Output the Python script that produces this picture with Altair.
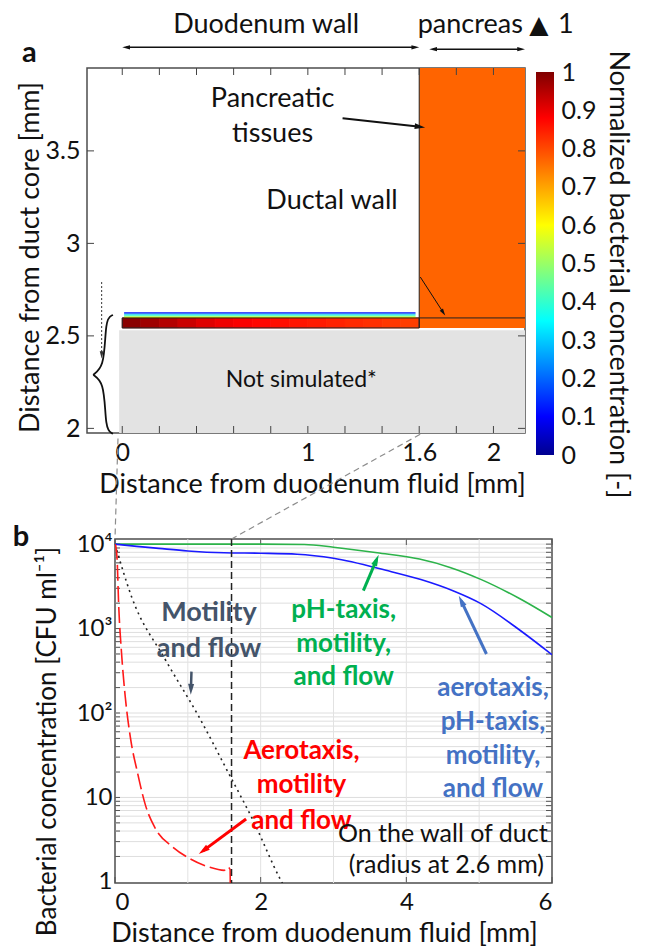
import math
import altair as alt
import pandas as pd

FONT = "Lato"
INK = "#111111"

# ===================== Panel (a) values =====================
a_x_domain = [-0.19, 2.17]
a_y_domain = [1.975, 3.948]
a_x_ticks = [0, 1, 1.6, 2]
a_y_ticks = [2, 2.5, 3, 3.5]
a_x_minor = [0, 0.2, 0.4, 0.6, 0.8, 1.0, 1.2, 1.4, 1.6, 1.8, 2.0]

band_start = [0.0, 0.1, 0.2, 0.3, 0.4, 0.5, 0.6, 0.7, 0.8, 0.9, 1.0, 1.1, 1.2, 1.3, 1.4, 1.5]
band_end = [0.1, 0.2, 0.3, 0.4, 0.5, 0.6, 0.7, 0.8, 0.9, 1.0, 1.1, 1.2, 1.3, 1.4, 1.5, 1.6]
band_conc = [0.99, 0.97, 0.95, 0.93, 0.91, 0.895, 0.885, 0.875, 0.865, 0.857, 0.85,
             0.843, 0.835, 0.828, 0.82, 0.813]
band_bottom, band_top = 2.543, 2.597

film_bottom = [2.597, 2.603, 2.609, 2.615, 2.621]
film_top = [2.603, 2.609, 2.615, 2.621, 2.628]
film_conc = [0.62, 0.5, 0.4, 0.28, 0.12]
film_left, film_right = 0.01, 1.58

pancreas_left, pancreas_right = 1.6, 2.17
pancreas_bottom, pancreas_top = 2.543, 3.948
pancreas_conc = 0.77

unsim_left, unsim_right = -0.017, 2.17
unsim_bottom, unsim_top = 1.975, 2.531

# colour bar (jet-like)
cb_stops = [0, 0.1, 0.35, 0.6, 0.88, 1.0]
cb_colors = ["#00008f", "#0000ff", "#00ffff", "#ffff00", "#ff0000", "#7f0000"]
cb_ticks = [0, 0.1, 0.2, 0.3, 0.4, 0.5, 0.6, 0.7, 0.8, 0.9, 1]

a_labels = ["Pancreatic", "tissues", "Ductal wall"]
a_labels_x = [0.81, 0.81, 1.13]
a_labels_y = [3.78, 3.59, 3.23]
unsim_label = ["Not simulated*"]
unsim_label_x = [0.965]
unsim_label_y = [2.26]

a_top_labels = ["Duodenum wall", "pancreas", "1"]
a_top_x = [0.775, 1.875, 2.39]
a_top_y = [4.18, 4.18, 4.178]

brace_x = [-0.05, -0.093, -0.093, -0.185, -0.093, -0.093, -0.05]
brace_y = [2.613, 2.595, 2.31, 2.29, 2.27, 1.99, 1.971]

# arrows: (x1, y1, x2, y2)
a_arrow_pancreatic = [(1.187, 3.676, 1.632, 3.627)]
a_arrow_ductal = [(1.606, 2.818, 1.74, 2.61)]
a_arrow_dotted = [(-0.111, 2.791, -0.111, 2.378)]
a_arrow_spans = [(0.0, 4.06, 1.6, 4.06), (1.654, 4.05, 2.17, 4.05)]

# ===================== Panel (b) values =====================
b_x_domain = [0, 6]
b_y_domain = [0.97, 11500]
b_x_ticks = [0, 2, 4, 6]
b_x_grid = [1, 2, 3, 4, 5]
b_y_ticks = [1, 10, 100, 1000, 10000]
b_y_tick_labels = ["1", "10", "10²", "10³", "10⁴"]
b_y_grid = [2, 3, 4, 5, 6, 7, 8, 9, 10, 20, 30, 40, 50, 60, 70, 80, 90,
            100, 200, 300, 400, 500, 600, 700, 800, 900,
            1000, 2000, 3000, 4000, 5000, 6000, 7000, 8000, 9000, 10000]

green_x = [0, 1.0, 2.0, 2.6, 3.0, 3.6, 4.18, 4.6, 5.03, 5.56, 6.0]
green_y = [10000, 10000, 10000, 9900, 9200, 7900, 6650, 5300, 3800, 2250, 1350]

blue_x = [0, 0.3, 0.6, 1.0, 1.5, 2.0, 2.5, 3.0, 3.72, 4.2, 4.64, 5.03, 5.56, 6.0]
blue_y = [10000, 9400, 8900, 8300, 7900, 7800, 7600, 6800, 4900, 3800, 2800, 1960, 955, 490]

red_x = [0, 0.01, 0.03, 0.05, 0.09, 0.14, 0.21, 0.31, 0.42, 0.56, 0.79, 1.02, 1.29, 1.50, 1.55, 1.58, 1.585]
red_y = [10000, 9500, 6300, 1950, 510, 158, 52, 19.5, 8, 4.2, 2.6, 1.9, 1.5, 1.37, 1.5, 1.4, 0.5]

dot_x = [0.0, 0.23, 0.69, 1.15, 1.57, 1.885, 2.28, 2.35]
dot_y = [10000, 2350, 430, 91, 18.6, 5.6, 1.03, 0.8]

b_vline = [1.6]

conn_x1 = [0.041, 4.19]
conn_y1 = [178000, 200000]
conn_x2 = [0.0, 1.6]
conn_y2 = [11500, 11500]

motility_text = ["Motility", "and flow"]
motility_x = [1.29, 1.29]
motility_y = [1514, 575]
green_text = ["pH-taxis,", "motility,", "and flow"]
green_tx = [3.14, 3.14, 3.14]
green_ty = [1640, 660, 270]
blue_text = ["aerotaxis,", "pH-taxis,", "motility,", "and flow"]
blue_tx = [5.19, 5.19, 5.19, 5.19]
blue_ty = [197, 79, 31, 12.5]
red_text = ["Aerotaxis,", "motility", "and flow"]
red_tx = [2.56, 2.56, 2.56]
red_ty = [35.5, 14, 5.3]
wall_text = ["On the wall of duct", "(radius at 2.6 mm)"]
wall_tx = [5.94, 5.89]
wall_ty = [3.7, 1.57]

b_arrow_motility = [(1.05, 309, 1.04, 164)]
b_arrow_green = [(3.41, 2820, 3.62, 7500)]
b_arrow_blue = [(5.10, 500, 4.72, 2450)]
b_arrow_red = [(1.80, 5.56, 1.15, 2.14)]

# ===================== sizes =====================
A_W, A_H = 438, 365
B_W, B_H = 437, 344
CB_W, CB_H, CB_TOP = 18, 387, 4
HEAD = "M0,-1L-0.55,1L0.55,1Z"


def a_fwd(x, y):
    return ((x - a_x_domain[0]) / (a_x_domain[1] - a_x_domain[0]) * A_W,
            (a_y_domain[1] - y) / (a_y_domain[1] - a_y_domain[0]) * A_H)


def a_inv(px, py):
    return (a_x_domain[0] + px / A_W * (a_x_domain[1] - a_x_domain[0]),
            a_y_domain[1] - py / A_H * (a_y_domain[1] - a_y_domain[0]))


LB0, LB1 = math.log10(b_y_domain[0]), math.log10(b_y_domain[1])


def b_fwd(x, y):
    return ((x - b_x_domain[0]) / (b_x_domain[1] - b_x_domain[0]) * B_W,
            (LB1 - math.log10(y)) / (LB1 - LB0) * B_H)


def b_inv(px, py):
    return (b_x_domain[0] + px / B_W * (b_x_domain[1] - b_x_domain[0]),
            10 ** (LB1 - py / B_H * (LB1 - LB0)))


def arrow_layers(arrows, fwd, inv, X, Y, color, width, head_size, dash=None, both=False):
    rows, heads = [], []
    r = math.sqrt(head_size) / 2
    for (x1, y1, x2, y2) in arrows:
        p1, p2 = fwd(x1, y1), fwd(x2, y2)
        dx, dy = p2[0] - p1[0], p2[1] - p1[1]
        L = math.hypot(dx, dy)
        ux, uy = dx / L, dy / L
        ang = math.degrees(math.atan2(ux, -uy)) % 360
        c2 = inv(p2[0] - ux * r, p2[1] - uy * r)
        start = (x1, y1)
        if both:
            c1 = inv(p1[0] + ux * r, p1[1] + uy * r)
            heads.append({"x": c1[0], "y": c1[1], "ang": (ang + 180) % 360})
            start = c1
        heads.append({"x": c2[0], "y": c2[1], "ang": ang})
        rows.append({"x": start[0], "y": start[1], "x2": c2[0], "y2": c2[1]})
    rule_kw = dict(color=color, strokeWidth=width)
    if dash:
        rule_kw["strokeDash"] = dash
    shaft = alt.Chart(pd.DataFrame(rows)).mark_rule(**rule_kw).encode(
        x=X(), y=Y(), x2="x2:Q", y2="y2:Q")
    tip = alt.Chart(pd.DataFrame(heads)).mark_point(
        shape=HEAD, filled=True, size=head_size, color=color, opacity=1, strokeWidth=0
    ).encode(x=X(), y=Y(), angle=alt.Angle("ang:Q", scale=None))
    return [shaft, tip]


# ===================== Panel (a) =====================
a_xscale = alt.Scale(domain=a_x_domain, nice=False, zero=False)
a_yscale = alt.Scale(domain=a_y_domain, nice=False, zero=False)
a_xaxis = alt.Axis(values=a_x_ticks, format="~g", title="Distance from duodenum fluid [mm]",
                   grid=False, ticks=False, domain=False, labelFontSize=25, titleFontSize=27,
                   labelPadding=7, titlePadding=6, labelFlush=False, titleX=225)
a_yaxis = alt.Axis(values=a_y_ticks, format="~g", title="Distance from duct core [mm]",
                   grid=False, ticks=False, domain=False, labelFontSize=25, titleFontSize=27,
                   labelPadding=7, titlePadding=1, titleY=189)


def AX():
    return alt.X("x:Q", scale=a_xscale, axis=a_xaxis)


def AY():
    return alt.Y("y:Q", scale=a_yscale, axis=a_yaxis)


cscale = alt.Scale(domain=cb_stops, range=cb_colors, interpolate="rgb")


def CC():
    return alt.Color("v:Q", scale=cscale, legend=None)


def CS():
    return alt.Stroke("v:Q", scale=cscale, legend=None)


unsim_df = pd.DataFrame({"x": [unsim_left], "x2": [unsim_right], "y": [unsim_bottom], "y2": [unsim_top]})
a_unsim = alt.Chart(unsim_df).mark_rect(color="#e3e3e3").encode(x=AX(), x2="x2:Q", y=AY(), y2="y2:Q")

panc_df = pd.DataFrame({"x": [pancreas_left], "x2": [pancreas_right], "y": [pancreas_bottom],
                        "y2": [pancreas_top], "v": [pancreas_conc]})
a_panc = alt.Chart(panc_df).mark_rect().encode(x=AX(), x2="x2:Q", y=AY(), y2="y2:Q", color=CC())

band_df = pd.DataFrame({"x": band_start, "x2": band_end, "y": [band_bottom] * len(band_start),
                        "y2": [band_top] * len(band_start), "v": band_conc})
a_band = alt.Chart(band_df).mark_rect(strokeWidth=0.8).encode(
    x=AX(), x2="x2:Q", y=AY(), y2="y2:Q", color=CC(), stroke=CS())

film_df = pd.DataFrame({"x": [film_left] * len(film_conc), "x2": [film_right] * len(film_conc),
                        "y": film_bottom, "y2": film_top, "v": film_conc})
a_film = alt.Chart(film_df).mark_rect().encode(x=AX(), x2="x2:Q", y=AY(), y2="y2:Q", color=CC())

band_box = alt.Chart(pd.DataFrame({"x": [0.0], "x2": [1.6], "y": [band_bottom], "y2": [band_top]})).mark_rect(
    fill="transparent", stroke="#222", strokeWidth=1).encode(x=AX(), x2="x2:Q", y=AY(), y2="y2:Q")
hline = alt.Chart(pd.DataFrame({"x": [1.6], "x2": [a_x_domain[1]], "y": [band_top]})).mark_rule(
    color="#222", strokeWidth=1).encode(x=AX(), x2="x2:Q", y=AY())
vline = alt.Chart(pd.DataFrame({"x": [1.6], "y": [band_bottom], "y2": [a_y_domain[1]]})).mark_rule(
    color="#222", strokeWidth=1).encode(x=AX(), y=AY(), y2="y2:Q")

tick_top = alt.Chart(pd.DataFrame({"x": a_x_minor})).mark_rule(color="#444", strokeWidth=1).encode(
    x=AX(), y=alt.value(0), y2=alt.value(7))
tick_bot = alt.Chart(pd.DataFrame({"x": a_x_minor})).mark_rule(color="#444", strokeWidth=1).encode(
    x=AX(), y=alt.value(A_H - 7), y2=alt.value(A_H))
tick_left = alt.Chart(pd.DataFrame({"y": a_y_ticks})).mark_rule(color="#444", strokeWidth=1).encode(
    y=AY(), x=alt.value(0), x2=alt.value(7))
tick_right = alt.Chart(pd.DataFrame({"y": a_y_ticks})).mark_rule(color="#444", strokeWidth=1).encode(
    y=AY(), x=alt.value(A_W - 7), x2=alt.value(A_W))

a_txt = alt.Chart(pd.DataFrame({"x": a_labels_x, "y": a_labels_y, "t": a_labels})).mark_text(
    font=FONT, fontSize=27, color=INK).encode(x=AX(), y=AY(), text="t:N")
a_unsim_txt = alt.Chart(pd.DataFrame({"x": unsim_label_x, "y": unsim_label_y, "t": unsim_label})).mark_text(
    font=FONT, fontSize=23, color=INK).encode(x=AX(), y=AY(), text="t:N")
a_top = alt.Chart(pd.DataFrame({"x": a_top_x, "y": a_top_y, "t": a_top_labels})).mark_text(
    font=FONT, fontSize=27, color=INK).encode(x=AX(), y=AY(), text="t:N")
a_tri = alt.Chart(pd.DataFrame({"x": [2.245], "y": [4.178], "t": ["▲"]})).mark_text(
    font="DejaVu Sans", fontSize=25, color=INK).encode(x=AX(), y=AY(), text="t:N")
a_letter = alt.Chart(pd.DataFrame({"x": [-0.5], "y": [4.03], "t": ["a"]})).mark_text(
    font=FONT, fontSize=29, fontWeight="bold", color=INK).encode(x=AX(), y=AY(), text="t:N")

brace = alt.Chart(pd.DataFrame({"x": brace_x, "y": brace_y, "i": list(range(len(brace_x)))})).mark_line(
    color="#111", strokeWidth=1.8, interpolate="basis").encode(x=AX(), y=AY(), order="i:Q")

a_layers = [a_unsim, a_panc, a_band, a_film, band_box, hline, vline,
            tick_top, tick_bot, tick_left, tick_right, a_txt, a_unsim_txt, a_top, a_tri, a_letter, brace]
a_layers += arrow_layers(a_arrow_pancreatic, a_fwd, a_inv, AX, AY, "#111", 2, 110)
a_layers += arrow_layers(a_arrow_ductal, a_fwd, a_inv, AX, AY, "#111", 1, 50)
a_layers += arrow_layers(a_arrow_dotted, a_fwd, a_inv, AX, AY, "#333", 1, 50, dash=[2, 2])
a_layers += arrow_layers(a_arrow_spans, a_fwd, a_inv, AX, AY, "#111", 1.5, 60, both=True)

panel_a = alt.layer(*a_layers).properties(width=A_W, height=A_H)

# ===================== colour bar =====================
cb_grad = alt.LinearGradient(
    gradient="linear", x1=0, y1=1, x2=0, y2=0,
    stops=[alt.GradientStop(offset=o, color=c) for o, c in zip(cb_stops, cb_colors)])
cb_scale = alt.Scale(domain=[0, CB_H / (CB_H - CB_TOP)], nice=False, zero=False)
cb_axis = alt.Axis(orient="right", values=cb_ticks, format="~g", grid=False, ticks=False, domain=False,
                   labelFontSize=25, labelPadding=7, labelOverlap=False,
                   title="Normalized bacterial concentration [-]", titleFontSize=27, titlePadding=8,
                   titleY=206, titleLimit=700)
cbar = alt.Chart(pd.DataFrame({"y": [0.0], "y2": [1.0]})).mark_rect(color=cb_grad).encode(
    x=alt.value(0), x2=alt.value(CB_W),
    y=alt.Y("y:Q", scale=cb_scale, axis=cb_axis), y2="y2:Q"
).properties(width=CB_W, height=CB_H, view=alt.ViewBackground(stroke="transparent"))

# ===================== Panel (b) =====================
b_xscale = alt.Scale(domain=b_x_domain, nice=False, zero=False)
b_yscale = alt.Scale(type="log", domain=b_y_domain, nice=False)
label_expr = " : ".join(
    [f"datum.value == {v} ? '{t}'" for v, t in zip(b_y_ticks[:-1], b_y_tick_labels[:-1])]
) + f" : '{b_y_tick_labels[-1]}'"
b_xaxis = alt.Axis(values=b_x_ticks, format="~g", title="Distance from duodenum fluid [mm]",
                   grid=False, ticks=False, domain=False, labelFontSize=24, titleFontSize=27,
                   labelPadding=7, titlePadding=6, titleX=209)
b_yaxis = alt.Axis(values=b_y_ticks, labelExpr=label_expr, title="Bacterial concentration [CFU ml⁻¹]",
                   grid=False, ticks=False, domain=False, labelFontSize=24, titleFontSize=26,
                   labelPadding=3, titlePadding=16, titleY=202)


def BX():
    return alt.X("x:Q", scale=b_xscale, axis=b_xaxis)


def BY():
    return alt.Y("y:Q", scale=b_yscale, axis=b_yaxis)


ygrid = alt.Chart(pd.DataFrame({"y": b_y_grid})).mark_rule(color="#dedede", strokeWidth=1).encode(y=BY())
xgrid = alt.Chart(pd.DataFrame({"x": b_x_grid})).mark_rule(color="#e2e2e2", strokeWidth=1).encode(x=BX())
ytick_l = alt.Chart(pd.DataFrame({"y": b_y_grid})).mark_rule(color="#555", strokeWidth=1).encode(
    y=BY(), x=alt.value(0), x2=alt.value(5))
ytick_r = alt.Chart(pd.DataFrame({"y": b_y_grid})).mark_rule(color="#555", strokeWidth=1).encode(
    y=BY(), x=alt.value(B_W - 6), x2=alt.value(B_W))
xtick_t = alt.Chart(pd.DataFrame({"x": b_x_ticks})).mark_rule(color="#555", strokeWidth=1).encode(
    x=BX(), y=alt.value(0), y2=alt.value(6))
xtick_b = alt.Chart(pd.DataFrame({"x": b_x_ticks})).mark_rule(color="#555", strokeWidth=1).encode(
    x=BX(), y=alt.value(B_H - 6), y2=alt.value(B_H))


def curve(xs, ys, color, width, dash=None):
    kw = dict(color=color, strokeWidth=width, clip=True, interpolate="monotone")
    if dash:
        kw["strokeDash"] = dash
    df = pd.DataFrame({"x": xs, "y": ys, "i": list(range(len(xs)))})
    return alt.Chart(df).mark_line(**kw).encode(x=BX(), y=BY(), order="i:Q")


c_green = curve(green_x, green_y, "#2cb34a", 1.6)
c_blue = curve(blue_x, blue_y, "#1a1aff", 1.6)
c_red = curve(red_x, red_y, "#ff1a1a", 1.6, dash=[16, 5])
c_dot = curve(dot_x, dot_y, "#222", 1.6, dash=[2, 4])

vdash = alt.Chart(pd.DataFrame({"x": b_vline})).mark_rule(
    color="#222", strokeWidth=1.5, strokeDash=[7, 4]).encode(x=BX())
conn = alt.Chart(pd.DataFrame({"x": conn_x1, "y": conn_y1, "x2": conn_x2, "y2": conn_y2})).mark_rule(
    color="#8c8c8c", strokeWidth=1.2, strokeDash=[6, 4]).encode(x=BX(), y=BY(), x2="x2:Q", y2="y2:Q")


def texts(ts, xs, ys, color, size, weight="bold", align="center"):
    return alt.Chart(pd.DataFrame({"x": xs, "y": ys, "t": ts})).mark_text(
        font=FONT, fontSize=size, fontWeight=weight, color=color, align=align, baseline="middle"
    ).encode(x=BX(), y=BY(), text="t:N")


t_mot = texts(motility_text, motility_x, motility_y, "#44546a", 27)
t_green = texts(green_text, green_tx, green_ty, "#00b050", 26)
t_blue = texts(blue_text, blue_tx, blue_ty, "#4472c4", 26)
t_red = texts(red_text, red_tx, red_ty, "#ff0000", 26)
t_wall = texts(wall_text, wall_tx, wall_ty, INK, 25, weight="normal", align="right")
b_letter = alt.Chart(pd.DataFrame({"x": [-1.29], "y": [12000], "t": ["b"]})).mark_text(
    font=FONT, fontSize=29, fontWeight="bold", color=INK).encode(x=BX(), y=BY(), text="t:N")

b_layers = [ygrid, xgrid, ytick_l, ytick_r, xtick_t, xtick_b, c_green, c_blue, c_dot, c_red,
            vdash, conn, t_mot, t_green, t_blue, t_red, t_wall, b_letter]
b_layers += arrow_layers(b_arrow_motility, b_fwd, b_inv, BX, BY, "#44546a", 2.5, 120)
b_layers += arrow_layers(b_arrow_green, b_fwd, b_inv, BX, BY, "#00b050", 3, 130)
b_layers += arrow_layers(b_arrow_blue, b_fwd, b_inv, BX, BY, "#4472c4", 3, 130)
b_layers += arrow_layers(b_arrow_red, b_fwd, b_inv, BX, BY, "#ff0000", 3, 130)

panel_b = alt.layer(*b_layers).properties(width=B_W, height=B_H)

spacer = alt.Chart(pd.DataFrame({"d": [0]})).mark_point(opacity=0).encode(
    x=alt.value(0), y=alt.value(0)).properties(
    width=28, height=B_H, view=alt.ViewBackground(stroke="transparent"))

bottom = alt.hconcat(spacer, panel_b, spacing=0, bounds="flush").resolve_scale(
    x="independent", y="independent")
left_col = alt.vconcat(panel_a, bottom, spacing=106, bounds="flush").resolve_scale(
    x="independent", y="independent")
# nested column has no own size under flush bounds, so the spacing is the bar's offset from panel a
chart = alt.hconcat(left_col, cbar, spacing=A_W + 11, bounds="flush").resolve_scale(
    x="independent", y="independent"
).properties(padding={"left": 4, "top": 2, "right": 4, "bottom": 2}).configure(font=FONT).configure_axis(
    labelFont=FONT, titleFont=FONT, labelColor=INK, titleColor=INK, titleFontWeight="normal"
).configure_view(stroke="#4d4d4d", strokeWidth=1.5)

chart.save("out.html", embed_options={"renderer": "svg", "actions": False})
